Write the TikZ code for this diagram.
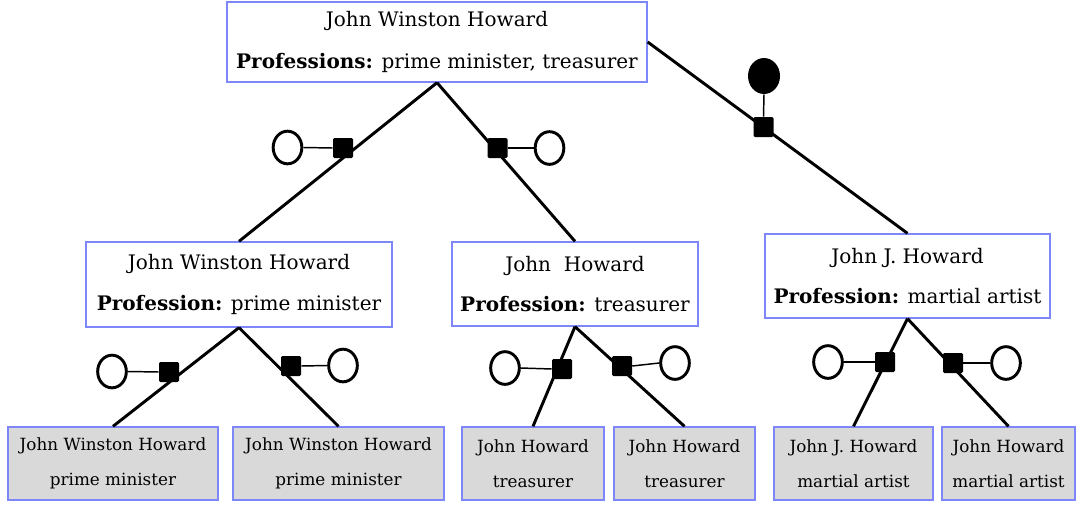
\documentclass[tikz,border=0pt]{standalone}
\usepackage{fontspec}
\setmainfont{DejaVu Serif}
\usetikzlibrary{shapes.geometric}
\definecolor{boxline}{RGB}{125,135,250}
\definecolor{leafgray}{RGB}{217,217,217}
\tikzset{
  entity/.style={draw=boxline, line width=1pt, fill=white, inner sep=0pt, align=center,
    font=\fontsize{15}{30.5}\selectfont},
  leaf/.style={entity, fill=leafgray, minimum height=54.75pt,
    font=\fontsize{12.6}{26}\selectfont},
  link/.style={line width=2.2pt},
  tie/.style={line width=1.1pt},
  sq/.style={rectangle, fill=black, rounded corners=1pt, minimum size=15pt, inner sep=0pt},
  ring/.style={ellipse, draw=black, line width=2.2pt, fill=white, minimum width=21.5pt,
    minimum height=24.5pt, inner sep=0pt},
  dot/.style={ellipse, fill=black, minimum width=24pt, minimum height=27pt, inner sep=0pt}
}
\begin{document}
\begin{tikzpicture}[x=0.75pt, y=-0.75pt]
\useasboundingbox (0,0) rectangle (1078,504);

% entity boxes
\node[entity, minimum width=315pt, minimum height=60pt, font=\fontsize{15}{32}\selectfont] (top) at (437,42)
  {John Winston Howard\\\textbf{Professions:} prime minister, treasurer};
\node[entity, minimum width=229.5pt, minimum height=63.75pt] (ml) at (239,284.5)
  {John Winston Howard\\\textbf{Profession:} prime minister};
\node[entity, minimum width=184.5pt, minimum height=63pt] (mc) at (575,284)
  {John\ \ Howard\\\textbf{Profession:} treasurer};
\node[entity, minimum width=213.75pt, minimum height=63pt] (mr) at (907.5,276)
  {John J. Howard\\\textbf{Profession:} martial artist};

% leaf boxes
\node[leaf, minimum width=157.5pt] (b1) at (113,463.5) {John Winston Howard\\prime minister};
\node[leaf, minimum width=158.25pt] (b2) at (338.5,463.5) {John Winston Howard\\prime minister};
\node[leaf, minimum width=106.5pt] (b3) at (533,463.5) {John Howard\\treasurer};
\node[leaf, minimum width=105.75pt] (b4) at (684.5,463.5) {John Howard\\treasurer};
\node[leaf, minimum width=119.25pt] (b5) at (853.5,463.5) {John J. Howard\\martial artist};
\node[leaf, minimum width=99.75pt] (b6) at (1008.5,463.5) {John Howard\\martial artist};

% tree edges
\draw[link] (top.south) -- (ml.north);
\draw[link] (top.south) -- (mc.north);
\draw[link] (top.east) -- (mr.north);
\draw[link] (ml.south) -- (b1.north);
\draw[link] (ml.south) -- (b2.north);
\draw[link] (mc.south) -- (b3.north);
\draw[link] (mc.south) -- (b4.north);
\draw[link] (mr.south) -- (b5.north);
\draw[link] (mr.south) -- (b6.north);

% markers on the upper edges
\node[sq] (s1) at (343,148) {};
\node[ring] (c1) at (287.5,147.5) {};
\draw[tie] (c1.east) -- (s1.west);
\node[sq] (s2) at (497.5,148) {};
\node[ring] (c2) at (549.5,148) {};
\draw[tie] (s2.east) -- (c2.west);
\node[sq] (s3) at (763.5,127) {};
\node[dot] (c3) at (764,76) {};
\draw[tie] (c3.south) -- (s3.north);

% markers on the lower edges
\node[sq] (s4) at (169,372) {};
\node[ring] (c4) at (112,371.5) {};
\draw[tie] (c4.east) -- (s4.west);
\node[sq] (s5) at (291,366) {};
\node[ring] (c5) at (343,365.5) {};
\draw[tie] (s5.east) -- (c5.west);
\node[sq] (s6) at (562,369) {};
\node[ring] (c6) at (505,368) {};
\draw[tie] (c6.east) -- (s6.west);
\node[sq] (s7) at (622,366) {};
\node[ring] (c7) at (675,363) {};
\draw[tie] (s7.east) -- (c7.west);
\node[sq] (s8) at (885,362) {};
\node[ring] (c8) at (828,362) {};
\draw[tie] (c8.east) -- (s8.west);
\node[sq] (s9) at (953,363) {};
\node[ring] (c9) at (1006,363) {};
\draw[tie] (s9.east) -- (c9.west);
\end{tikzpicture}
\end{document}
